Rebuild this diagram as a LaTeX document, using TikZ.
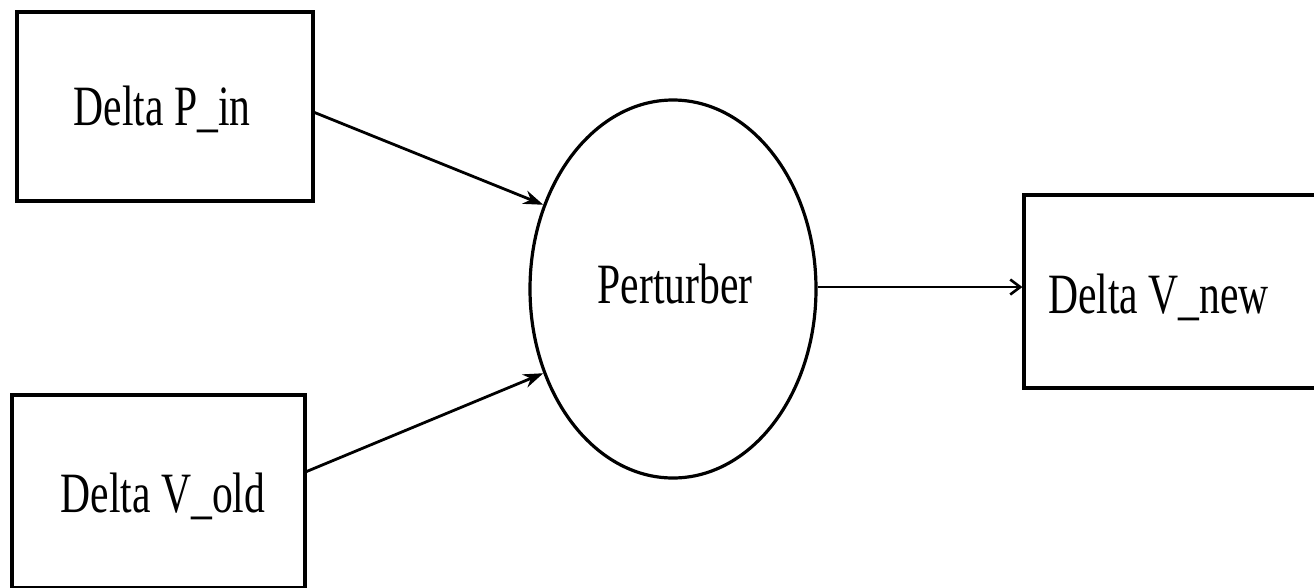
\documentclass[tikz,border=0pt]{standalone}
\usepackage{fontspec}
\setmainfont{Liberation Serif}
\usetikzlibrary{shapes.geometric,arrows.meta}
\newcommand{\cnd}[1]{\scalebox{0.73}[1]{#1}}
\begin{document}
\begin{tikzpicture}[x=1pt,y=-1pt,
  shapeline/.style={draw=black,line width=3.2pt},
  boxnode/.style={shapeline,rectangle,inner sep=0pt},
  ovalnode/.style={shapeline,ellipse,inner sep=0pt,minimum width=286pt,minimum height=378pt},
  lbl/.style={font=\fontsize{57}{60}\selectfont,inner sep=0pt},
  conn/.style={line width=2.8pt},
  tipA/.style={-{Stealth[length=20pt,width=14pt]}},
  tipB/.style={-{Straight Barb[length=10pt,width=15pt,line width=2.6pt]}}]
\useasboundingbox (0,0) rectangle (1314,587);
\node[boxnode,minimum width=296pt,minimum height=189pt] (b1) at (165,106.5) {};
\node[boxnode,minimum width=293pt,minimum height=193pt] (b2) at (158.5,491.5) {};
\node[boxnode,minimum width=320pt,minimum height=193pt] (b3) at (1184,291.5) {};
\node[ovalnode] (e) at (673,289) {};
\node[lbl,anchor=base] (t1) at (162,125) {\cnd{Delta P\_in}};
\node[lbl,anchor=base] (t2) at (163,512) {\cnd{Delta V\_old}};
\node[lbl,anchor=base] (t3) at (675,303) {\cnd{Perturber}};
\node[lbl,anchor=base west] (t4) at (1048,313) {\cnd{Delta V\_new}};
\draw[conn,tipA] ([yshift=-6pt]b1.east) -- (e.147);
\draw[conn,tipA] ([yshift=20pt]b2.east) -- (e.213);
\draw[conn,tipB] ([yshift=2pt]e.east) -- ([yshift=2pt]e.east -| b3.west);
\end{tikzpicture}
\end{document}
